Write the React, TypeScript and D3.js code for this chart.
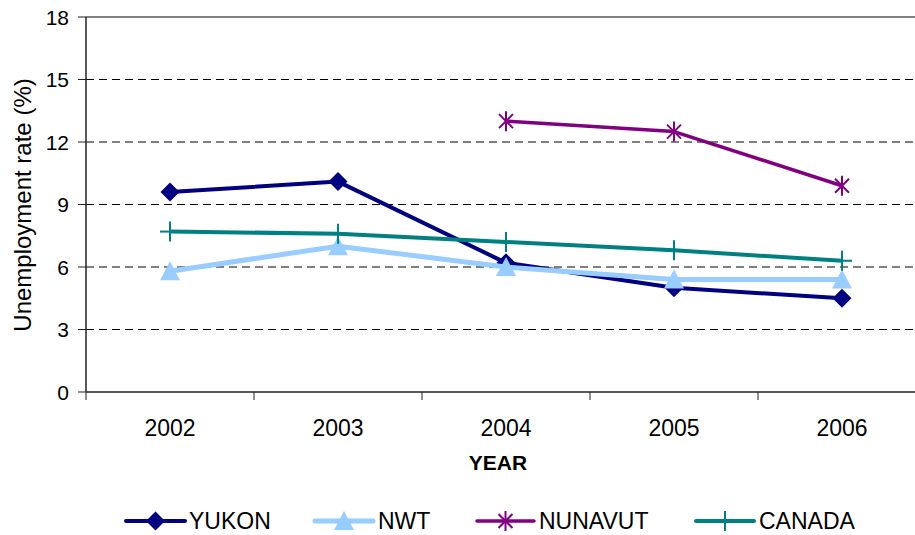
import React from "react";
import * as d3 from "d3";

const years = ["2002", "2003", "2004", "2005", "2006"];
const yukon: (number | null)[] = [9.6, 10.1, 6.2, 5.0, 4.5];
const nwt: (number | null)[] = [5.8, 7.0, 6.0, 5.4, 5.4];
const nunavut: (number | null)[] = [null, null, 13.0, 12.5, 9.9];
const canada: (number | null)[] = [7.7, 7.6, 7.2, 6.8, 6.3];
const yTicks = [0, 3, 6, 9, 12, 15, 18];

const seriesNames = ["YUKON", "NWT", "NUNAVUT", "CANADA"];
const seriesColors = ["#000080", "#99CCFF", "#800080", "#008080"];
const seriesWidths = [4, 5, 3.5, 4];
const seriesMarkers = ["diamond", "triangle", "star", "plus"];
const seriesValues = [yukon, nwt, nunavut, canada];

const W = 915;
const H = 535;
const left = 86;
const right = 926;
const top = 17;
const bottom = 392;

function Marker({ type, x, y, color }: { type: string; x: number; y: number; color: string }) {
  if (type === "diamond") {
    const s = 9.5;
    return <path d={`M${x},${y - s}L${x + s},${y}L${x},${y + s}L${x - s},${y}Z`} fill={color} />;
  }
  if (type === "triangle") {
    const s = 10;
    return <path d={`M${x},${y - s}L${x + s},${y + s * 0.9}L${x - s},${y + s * 0.9}Z`} fill={color} />;
  }
  if (type === "star") {
    const s = 10;
    const d = 7;
    return (
      <g stroke={color} strokeWidth={2}>
        <line x1={x} y1={y - s} x2={x} y2={y + s} />
        <line x1={x - d} y1={y - d} x2={x + d} y2={y + d} />
        <line x1={x - d} y1={y + d} x2={x + d} y2={y - d} />
      </g>
    );
  }
  const s = 10;
  return (
    <g stroke={color} strokeWidth={2}>
      <line x1={x} y1={y - s} x2={x} y2={y + s} />
      <line x1={x - s} y1={y} x2={x + s} y2={y} />
    </g>
  );
}

export default function App() {
  const x = d3.scaleBand<string>().domain(years).range([left, right]).padding(0);
  const cx = (c: string) => (x(c) as number) + x.bandwidth() / 2;
  const y = d3.scaleLinear().domain([0, 18]).range([bottom, top]);

  const line = d3
    .line<[string, number | null]>()
    .defined((d) => d[1] != null)
    .x((d) => cx(d[0]))
    .y((d) => y(d[1] as number));

  const catTicks = [...years.map((c) => x(c) as number), right];

  const legendItems = [
    { x1: 126, x2: 185, tx: 189 },
    { x1: 315, x2: 373, tx: 378 },
    { x1: 477, x2: 534, tx: 539 },
    { x1: 696, x2: 754, tx: 759 },
  ];
  const ly = 521;

  return (
    <svg width={W} height={H} style={{ position: "absolute", left: 0, top: 0 }} fontFamily="'Liberation Sans', Arial, sans-serif">
      <rect x={0} y={0} width={W} height={H} fill="#fff" />
      {yTicks
        .filter((t) => t > 0 && t < 18)
        .map((t) => (
          <line key={t} x1={left} x2={right} y1={y(t)} y2={y(t)} stroke="#000" strokeWidth={1} strokeDasharray="8,5" />
        ))}
      <line x1={left} x2={right} y1={top} y2={top} stroke="#808080" strokeWidth={2} />
      <line x1={left} x2={left} y1={top} y2={bottom} stroke="#222" strokeWidth={1.5} />
      <line x1={left} x2={right} y1={bottom} y2={bottom} stroke="#222" strokeWidth={1.5} />
      {yTicks.map((t) => (
        <g key={t}>
          <line x1={left - 8} x2={left} y1={y(t)} y2={y(t)} stroke="#222" strokeWidth={1} />
          <text x={69} y={y(t)} dy="0.36em" textAnchor="end" fontSize={21} fill="#000">
            {t}
          </text>
        </g>
      ))}
      {catTicks.map((t, i) => (
        <line key={i} x1={t} x2={t} y1={bottom} y2={bottom + 8} stroke="#222" strokeWidth={1} />
      ))}
      {years.map((c) => (
        <text key={c} x={cx(c)} y={428} dy="0.36em" textAnchor="middle" fontSize={23} fill="#000">
          {c}
        </text>
      ))}
      <text x={498} y={462} dy="0.36em" textAnchor="middle" fontSize={21} fontWeight="bold" fill="#000">
        YEAR
      </text>
      <text
        transform={`translate(22,205) rotate(-90)`}
        textAnchor="middle"
        dy="0.36em"
        fontSize={24}
        fill="#000"
      >
        Unemployment rate (%)
      </text>
      {seriesValues.map((vals, i) => (
        <g key={seriesNames[i]}>
          <path
            d={line(years.map((c, j) => [c, vals[j]] as [string, number | null])) || ""}
            fill="none"
            stroke={seriesColors[i]}
            strokeWidth={seriesWidths[i]}
            strokeLinejoin="round"
          />
          {years.map((c, j) =>
            vals[j] != null ? (
              <Marker key={c} type={seriesMarkers[i]} x={cx(c)} y={y(vals[j] as number)} color={seriesColors[i]} />
            ) : null
          )}
        </g>
      ))}
      {legendItems.map((it, i) => (
        <g key={i}>
          <line x1={it.x1} x2={it.x2} y1={ly} y2={ly} stroke={seriesColors[i]} strokeWidth={seriesWidths[i]} strokeLinecap="round" />
          <Marker type={seriesMarkers[i]} x={(it.x1 + it.x2) / 2} y={ly} color={seriesColors[i]} />
          <text x={it.tx} y={ly} dy="0.36em" fontSize={23} fill="#000">
            {seriesNames[i]}
          </text>
        </g>
      ))}
    </svg>
  );
}
